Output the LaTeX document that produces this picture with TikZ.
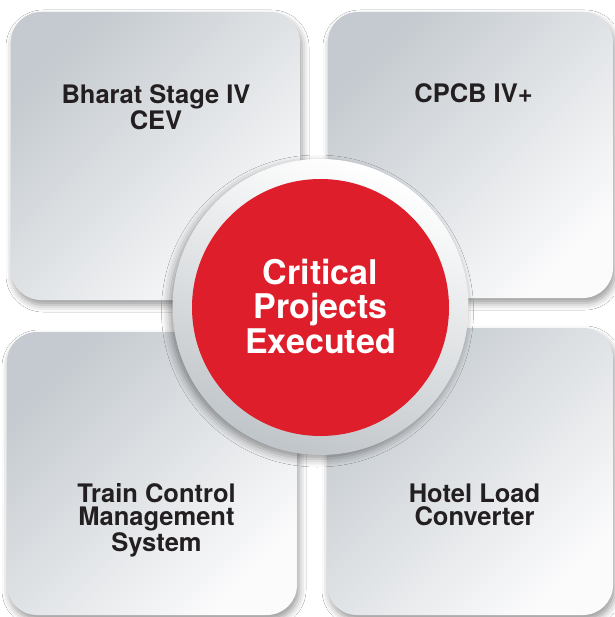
\documentclass[tikz,border=0pt]{standalone}
\usepackage{fontspec}
\setmainfont{TeX Gyre Heros}
\usetikzlibrary{shadows.blur}
\definecolor{boxdark}{HTML}{C4CACF}
\definecolor{boxlight}{HTML}{FBFBFC}
\definecolor{critred}{HTML}{DE1E2B}
\definecolor{ringlight}{HTML}{FFFFFF}
\definecolor{ringdark}{HTML}{C0C5C9}
\definecolor{textdark}{HTML}{231F20}
\begin{document}
\begin{tikzpicture}[x=1pt,y=-1pt,
  panel/.style={rounded corners=30pt, draw=none, inner sep=0pt,
    top color=boxdark, bottom color=boxlight, shading angle=45,
    blur shadow={shadow xshift=2pt, shadow yshift=-5pt, shadow blur radius=7pt, shadow opacity=40}},
  paneltext/.style={font=\bfseries\fontsize{25.5}{23}\selectfont, align=center, text=textdark, inner sep=0pt},
  ring/.style={circle, draw=none, inner sep=0pt, minimum size=296pt,
    top color=ringlight, bottom color=ringdark, shading angle=-20,
    blur shadow={shadow xshift=-3pt, shadow yshift=-4pt, shadow blur radius=8pt, shadow opacity=40}},
  core/.style={circle, draw=none, fill=critred, inner sep=0pt, minimum size=257pt},
  coretext/.style={font=\bfseries\fontsize{34}{34.5}\selectfont, align=center, text=white, inner sep=0pt}
]
\useasboundingbox[fill=white] (0,0) rectangle (614,617);
% panels
\node[panel, minimum width=289pt, minimum height=288pt] (tl) at (155.5,156) {};
\node[panel, minimum width=285pt, minimum height=286pt] (tr) at (470.5,155) {};
\node[panel, minimum width=290pt, minimum height=283pt] (bl) at (152,473.5) {};
\node[panel, minimum width=286pt, minimum height=287pt] (br) at (470,471.5) {};
% panel labels
\node[paneltext, anchor=north] (tlt) at (156,84.5) {Bharat Stage IV\\CEV};
\node[paneltext, anchor=base] (trt) at (473.5,103) {CPCB IV+};
\node[paneltext, anchor=north] (blt) at (156.5,483.5) {Train Control\\Management\\System};
\node[paneltext, anchor=north] (brt) at (474.5,483.5) {Hotel Load\\Converter};
% centre
\node[ring] (ring) at (320.5,307) {};
\node[core] (core) at (320.5,307.5) {};
\node[coretext, anchor=north] (coret) at (320.5,258.5) {Critical\\Projects\\Executed};
\end{tikzpicture}
\end{document}
